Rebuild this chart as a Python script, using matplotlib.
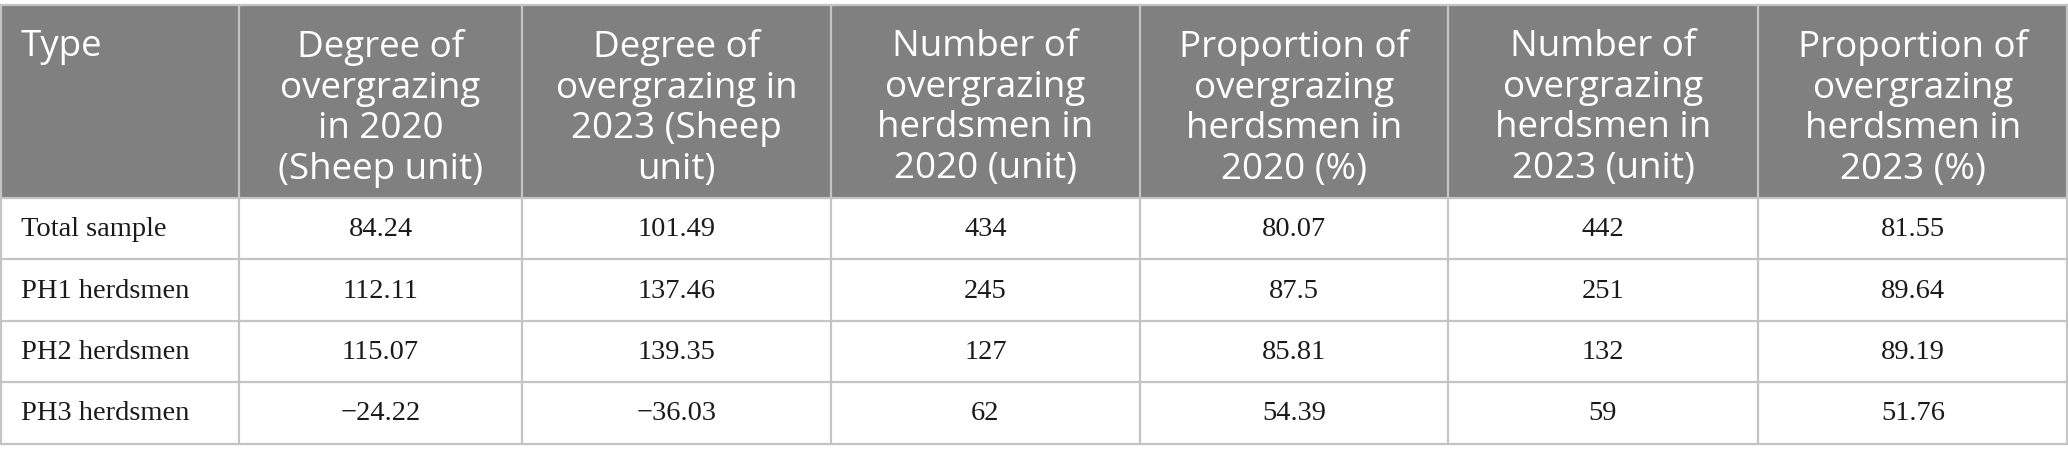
import matplotlib
matplotlib.use("Agg")
import matplotlib.pyplot as plt
import matplotlib.patches as patches

# table content
headers = [
    "Type",
    "Degree of\novergrazing\nin 2020\n(Sheep unit)",
    "Degree of\novergrazing in\n2023 (Sheep\nunit)",
    "Number of\novergrazing\nherdsmen in\n2020 (unit)",
    "Proportion of\novergrazing\nherdsmen in\n2020 (%)",
    "Number of\novergrazing\nherdsmen in\n2023 (unit)",
    "Proportion of\novergrazing\nherdsmen in\n2023 (%)",
]
row_labels = ["Total sample", "PH1 herdsmen", "PH2 herdsmen", "PH3 herdsmen"]
deg_2020 = ["84.24", "112.11", "115.07", "\u221224.22"]
deg_2023 = ["101.49", "137.46", "139.35", "\u221236.03"]
num_2020 = ["434", "245", "127", "62"]
prop_2020 = ["80.07", "87.5", "85.81", "54.39"]
num_2023 = ["442", "251", "132", "59"]
prop_2023 = ["81.55", "89.64", "89.19", "51.76"]

columns = [row_labels, deg_2020, deg_2023, num_2020, prop_2020, num_2023, prop_2023]

# layout in pixels
W, H = 2068, 463
col_edges = [0, 239, 522, 831, 1140, 1448, 1758, 2068]
row_edges = [5, 198, 259, 321, 382, 444]

header_bg = "#7f807f"
line_col = "#c4c4c4"

fig = plt.figure(figsize=(W / 100, H / 100), dpi=100)
ax = fig.add_axes([0, 0, 1, 1])
ax.set_xlim(0, W)
ax.set_ylim(H, 0)
ax.axis("off")

# header background
ax.add_patch(patches.Rectangle((0, row_edges[0]), W, row_edges[1] - row_edges[0],
                               facecolor=header_bg, edgecolor="none"))

# grid lines
for y in row_edges:
    ax.plot([0, W], [y, y], color=line_col, linewidth=1.6, solid_capstyle="butt")
for x in col_edges:
    xx = min(max(x, 0.8), W - 0.8)
    ax.plot([xx, xx], [row_edges[0], row_edges[-1]], color=line_col, linewidth=1.6,
            solid_capstyle="butt")

# header text
hdr_size = 26.5
hdr_top = row_edges[0] + 24
for i, h in enumerate(headers):
    if i == 0:
        ax.text(col_edges[0] + 21, hdr_top, h, color="white", fontsize=hdr_size,
                family="Open Sans", ha="left", va="top", linespacing=1.17)
    else:
        cx = (col_edges[i] + col_edges[i + 1]) / 2
        ax.text(cx, hdr_top, h, color="white", fontsize=hdr_size,
                family="Open Sans", ha="center", va="top", linespacing=1.17)

# body text
for j, col in enumerate(columns):
    for r, val in enumerate(col):
        cy = (row_edges[r + 1] + row_edges[r + 2]) / 2 + 1
        if j == 0:
            ax.text(col_edges[0] + 21, cy, val, fontsize=20.5, family="Liberation Serif",
                    ha="left", va="center", color="#1a1a1a")
        else:
            cx = (col_edges[j] + col_edges[j + 1]) / 2
            ax.text(cx, cy, val, fontsize=20.5, family="Liberation Serif",
                    ha="center", va="center", color="#1a1a1a")

fig.savefig("out.png", dpi=100)
